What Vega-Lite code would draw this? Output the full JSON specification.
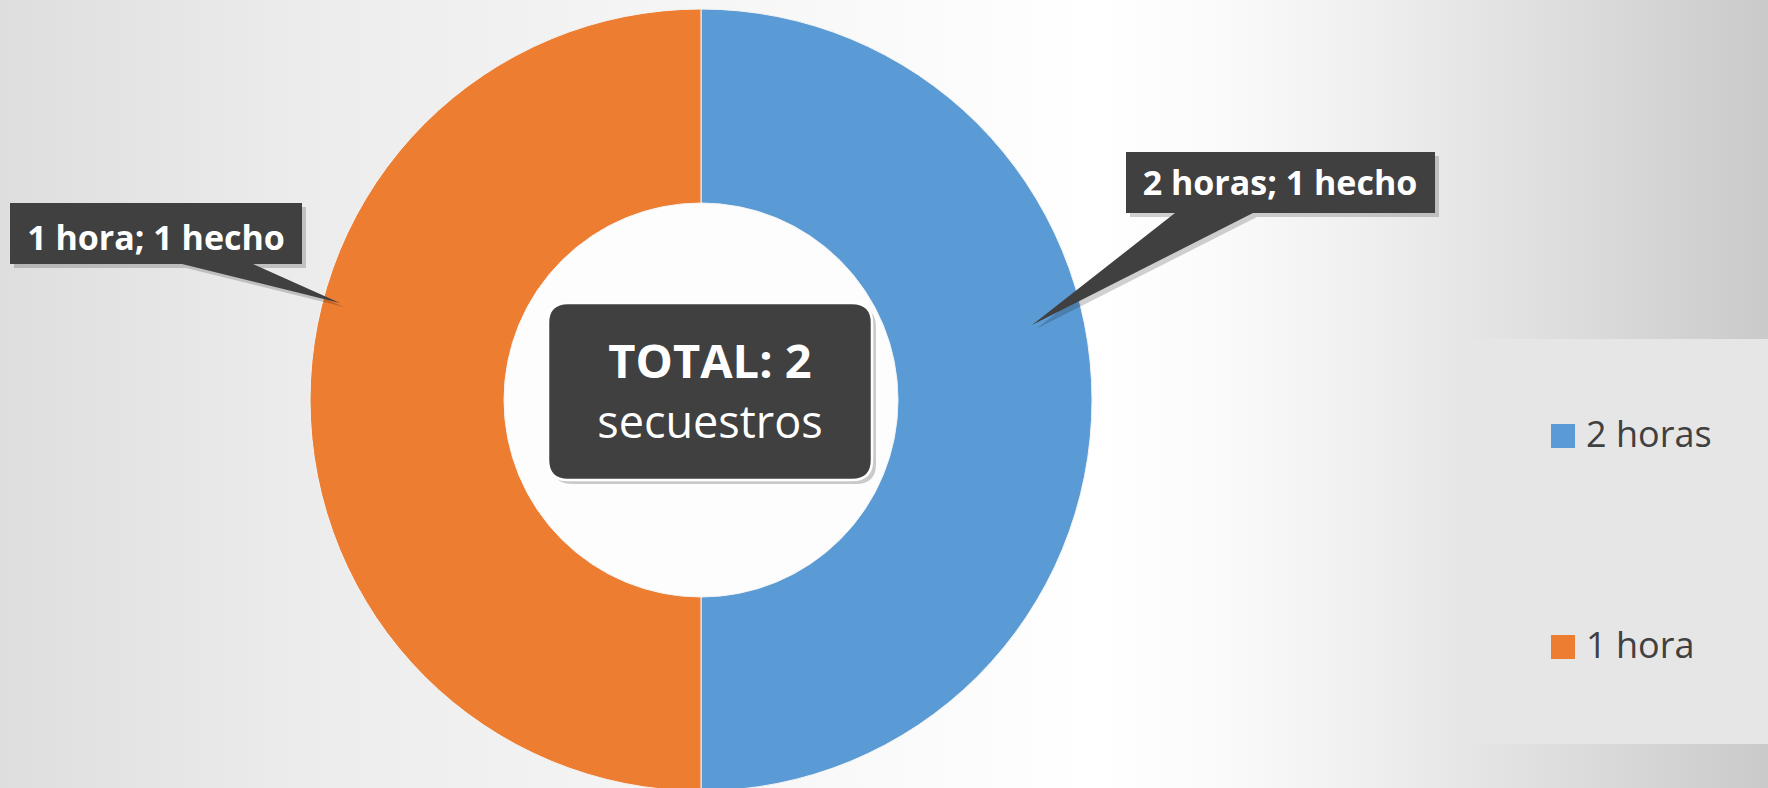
{
  "$schema": "https://vega.github.io/schema/vega-lite/v6.json",
  "width": 1768,
  "height": 788,
  "autosize": {"type": "none"},
  "padding": 0,
  "background": "#d8d8d8",
  "view": {
    "stroke": null,
    "fill": {
      "gradient": "linear",
      "x1": 0, "y1": 0, "x2": 1, "y2": 0,
      "stops": [
        {"offset": 0, "color": "#dedede"},
        {"offset": 0.17, "color": "#ececec"},
        {"offset": 0.45, "color": "#f8f8f8"},
        {"offset": 0.62, "color": "#ffffff"},
        {"offset": 0.695, "color": "#fafafa"},
        {"offset": 0.767, "color": "#f0f0f0"},
        {"offset": 0.84, "color": "#e4e4e4"},
        {"offset": 0.91, "color": "#d9d9d9"},
        {"offset": 1, "color": "#cacaca"}
      ]
    }
  },
  "datasets": {
    "secuestros": [
      {"duracion": "2 horas", "hechos": 1, "etiqueta": "2 horas; 1 hecho"},
      {"duracion": "1 hora", "hechos": 1, "etiqueta": "1 hora; 1 hecho"}
    ],
    "total": [
      {"titulo": "TOTAL: 2", "unidad": "secuestros"}
    ]
  },
  "layer": [
    {
      "data": {"name": "total"},
      "mark": {"type": "arc", "radius": 197, "fill": "#fdfdfd", "xOffset": -183, "yOffset": 6},
      "encoding": {}
    },
    {
      "data": {"name": "secuestros"},
      "mark": {"type": "arc", "radius": 391, "radius2": 197, "stroke": "#f4f4f4", "strokeWidth": 1, "xOffset": -183, "yOffset": 6},
      "encoding": {
        "theta": {"field": "hechos", "type": "quantitative", "stack": true},
        "order": {"field": "duracion", "sort": "descending"},
        "color": {
          "field": "duracion",
          "type": "nominal",
          "scale": {"domain": ["2 horas", "1 hora"], "range": ["#5b9bd5", "#ed7d31"]},
          "legend": {
            "title": null,
            "orient": "none",
            "legendX": 1466,
            "legendY": 339,
            "symbolType": "square",
            "symbolSize": 576,
            "symbolStrokeWidth": 0,
            "symbolOpacity": 1,
            "labelFont": "Open Sans",
            "labelFontSize": 36,
            "labelColor": "#404040",
            "labelOffset": 5,
            "rowPadding": 175,
            "padding": 79,
            "fillColor": "#e6e6e6"
          }
        }
      }
    },
    {
      "data": {"name": "secuestros"},
      "mark": {"type": "point", "filled": true, "fill": "#000000", "opacity": 0.18, "size": 4, "xOffset": -179, "yOffset": 10},
      "encoding": {
        "shape": {
          "field": "etiqueta",
          "type": "nominal",
          "scale": {"domain": ["2 horas; 1 hecho", "1 hora; 1 hecho"], "range": ["M425,-248H734V-187H552L331,-75L474,-187H425Z", "M-691,-197H-399V-136H-448L-361,-97L-519,-136H-691Z"]},
          "legend": null
        }
      }
    },
    {
      "data": {"name": "secuestros"},
      "mark": {"type": "point", "filled": true, "fill": "#404040", "opacity": 1, "size": 4, "xOffset": -183, "yOffset": 6},
      "encoding": {
        "shape": {
          "field": "etiqueta",
          "type": "nominal",
          "scale": {"domain": ["2 horas; 1 hecho", "1 hora; 1 hecho"], "range": ["M425,-248H734V-187H552L331,-75L474,-187H425Z", "M-691,-197H-399V-136H-448L-361,-97L-519,-136H-691Z"]},
          "legend": null
        }
      }
    },
    {
      "data": {"name": "total"},
      "mark": {"type": "point", "filled": true, "fill": "#000000", "opacity": 0.2, "size": 4, "xOffset": -179, "yOffset": 10,
        "shape": "M-133,-97H151Q171,-97 171,-77V60Q171,80 151,80H-133Q-153,80 -153,60V-77Q-153,-97 -133,-97Z"},
      "encoding": {}
    },
    {
      "data": {"name": "total"},
      "mark": {"type": "point", "filled": true, "fill": "#404040", "stroke": "#ffffff", "strokeWidth": 2.5, "opacity": 1, "size": 4, "xOffset": -183, "yOffset": 6,
        "shape": "M-133,-97H151Q171,-97 171,-77V60Q171,80 151,80H-133Q-153,80 -153,60V-77Q-153,-97 -133,-97Z"},
      "encoding": {}
    },
    {
      "data": {"name": "total"},
      "mark": {"type": "text", "font": "Open Sans", "fontSize": 47, "fontWeight": "bold", "color": "#ffffff", "align": "center", "baseline": "alphabetic", "xOffset": -174, "yOffset": -16},
      "encoding": {"text": {"field": "titulo"}}
    },
    {
      "data": {"name": "total"},
      "mark": {"type": "text", "font": "Open Sans", "fontSize": 45, "fontWeight": "normal", "color": "#ffffff", "align": "center", "baseline": "alphabetic", "xOffset": -174, "yOffset": 44},
      "encoding": {"text": {"field": "unidad"}}
    },
    {
      "data": {"name": "secuestros"},
      "transform": [{"filter": "datum.duracion === '2 horas'"}],
      "mark": {"type": "text", "font": "Open Sans", "fontSize": 34, "fontWeight": "bold", "color": "#ffffff", "align": "center", "baseline": "alphabetic", "xOffset": 396, "yOffset": -199},
      "encoding": {"text": {"field": "etiqueta"}}
    },
    {
      "data": {"name": "secuestros"},
      "transform": [{"filter": "datum.duracion === '1 hora'"}],
      "mark": {"type": "text", "font": "Open Sans", "fontSize": 34, "fontWeight": "bold", "color": "#ffffff", "align": "center", "baseline": "alphabetic", "xOffset": -728, "yOffset": -144},
      "encoding": {"text": {"field": "etiqueta"}}
    }
  ]
}
